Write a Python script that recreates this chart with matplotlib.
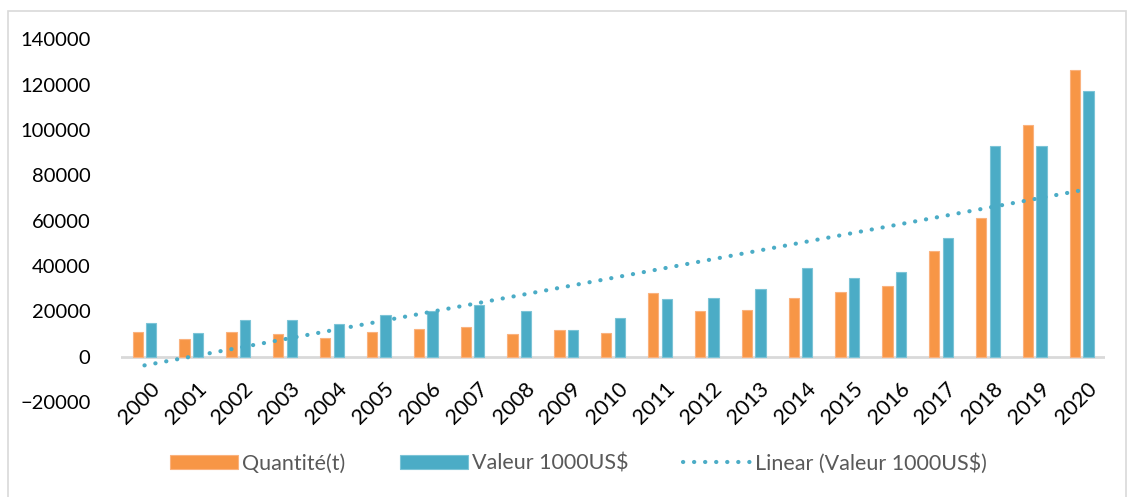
import numpy as np
import matplotlib
matplotlib.use("Agg")
import matplotlib.pyplot as plt
import matplotlib.transforms as mtransforms
from matplotlib.patches import Rectangle

# =========================
# DATA
# =========================
years = [str(y) for y in range(2000, 2021)]
quantite = [10900, 7970, 11080, 10200, 8280, 10800, 12400, 13300, 10200, 11800, 10500,
            28100, 20400, 20700, 26100, 28700, 31200, 46800, 61400, 102000, 126400]
valeur = [14800, 10500, 16400, 16400, 14500, 18500, 20200, 23000, 20100, 11800, 17000,
          25600, 26100, 29700, 39200, 34900, 37400, 52400, 92900, 92900, 117300]

ORANGE = "#F79646"
BLUE = "#4BACC6"

plt.rcParams['font.family'] = ['Lato', 'DejaVu Sans']

fig = plt.figure(figsize=(11.29, 4.97), dpi=100)
ax = fig.add_axes([0.1072, 0.1907, 0.8716, 0.7303])

x = np.arange(len(years))
w = 0.22
off = 0.145
b1 = ax.bar(x - off, quantite, w, color=ORANGE, edgecolor="#FAB27E", linewidth=0.8, label="Quantité(t)")
b2 = ax.bar(x + off, valeur, w, color=BLUE, edgecolor="#7CC4D7", linewidth=0.8, label="Valeur 1000US$")

# linear trend on valeur
a, b = np.polyfit(x, valeur, 1)
ln, = ax.plot(x, a * x + b, color=BLUE, lw=3, linestyle=(0, (0.05, 2.6)),
              dash_capstyle="round", label="Linear (Valeur 1000US$)")

ax.axhline(0, color="#D9D9D9", lw=2, zorder=0.5)

ax.set_xlim(-0.5, len(years) - 0.5)
ax.set_ylim(-20000, 140000)
ax.set_yticks(np.arange(-20000, 140001, 20000))
ax.set_xticks(x)
ax.set_xticklabels(years, rotation=45, ha="right", rotation_mode="anchor", fontsize=15.5)
ax.tick_params(axis="both", length=0, colors="#000000")
ax.tick_params(axis="y", pad=22, labelsize=14.5)
ax.tick_params(axis="x", pad=-17)
shift = mtransforms.ScaledTranslation(5 / 100, 0, fig.dpi_scale_trans)
for lab in ax.get_xticklabels():
    lab.set_transform(lab.get_transform() + shift)
for s in ax.spines.values():
    s.set_visible(False)

leg = fig.legend([b1, b2, ln], ["Quantité(t)", "Valeur 1000US$", "Linear (Valeur 1000US$)"],
                 loc="center", bbox_to_anchor=(0.5124, 0.068), ncol=3, frameon=False,
                 fontsize=15.5, handlelength=3.16, handleheight=0.65, handletextpad=0.22,
                 columnspacing=2.5)
for t in leg.get_texts():
    t.set_color("#595959")

# chart border
fig.patches.append(Rectangle((8 / 1129, -0.05), 1118 / 1129, 1 - 10.5 / 497 + 0.05,
                             transform=fig.transFigure, fill=False,
                             edgecolor="#D9D9D9", lw=1.2))

fig.savefig("out.png", dpi=100)
